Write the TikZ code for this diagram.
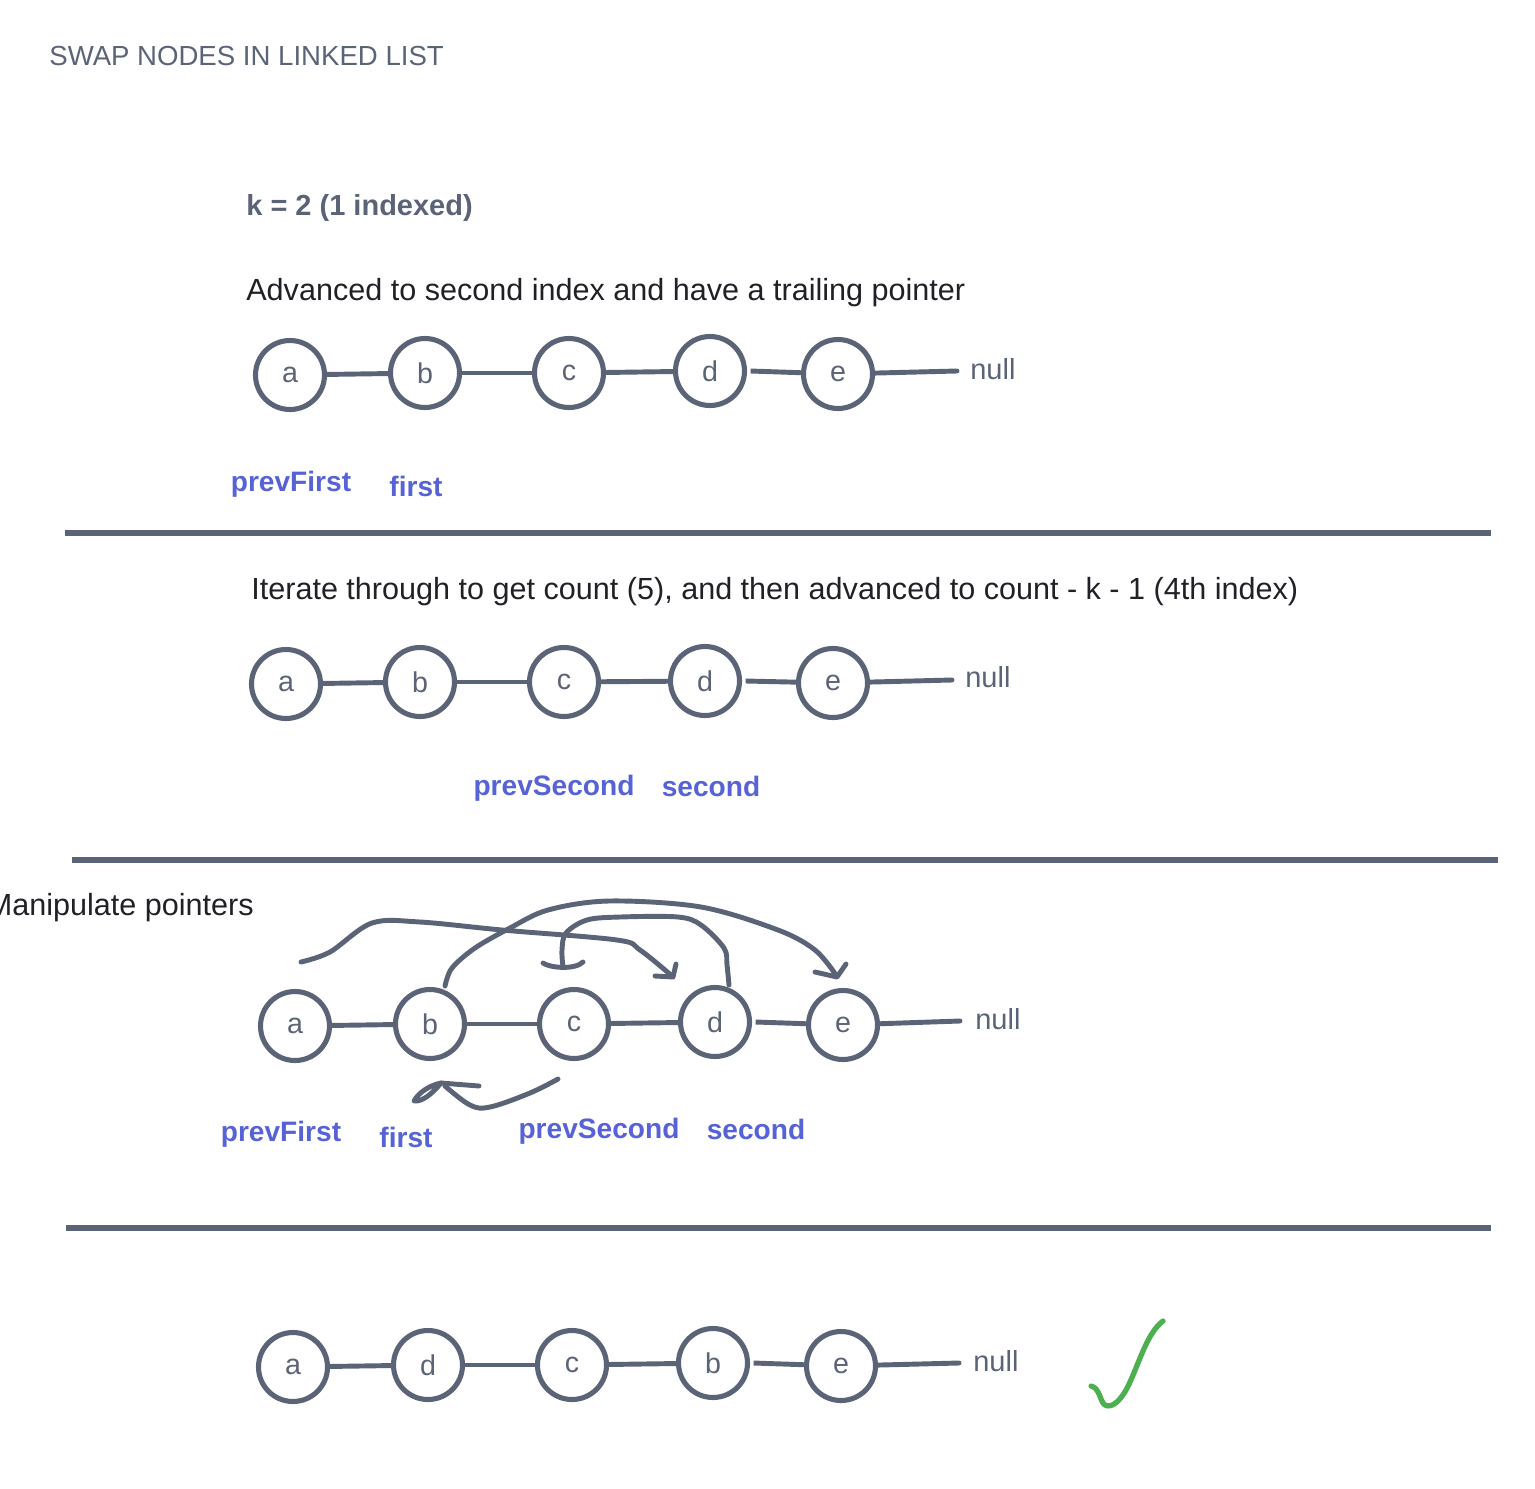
\documentclass[tikz,border=0pt]{standalone}
\usepackage{fontspec}
\setmainfont{Liberation Sans}
\definecolor{ink}{HTML}{5B6377}
\definecolor{txt}{HTML}{1F2126}
\definecolor{lbl}{HTML}{5662D6}
\definecolor{grn}{HTML}{4CAF50}
\tikzset{
  lnode/.style={circle, draw=ink, line width=2.9pt, minimum size=1.38cm, inner sep=0pt,
    text=ink, font=\fontsize{16.3}{19}\selectfont},
  link/.style={draw=ink, line width=2.8pt},
  nulltxt/.style={text=ink, font=\fontsize{16.5}{19}\selectfont, inner sep=0pt},
  ptr/.style={text=lbl, font=\bfseries\fontsize{16.0}{20}\selectfont, inner sep=0pt},
  body/.style={text=txt, font=\fontsize{17.4}{21}\selectfont, anchor=west, inner sep=0pt},
  divider/.style={draw=ink, line width=2.9pt},
  hand/.style={draw=ink, line width=2.8pt, line cap=round, line join=round},
}
\begin{document}
\begin{tikzpicture}[x=0.02cm, y=-0.02cm]
\useasboundingbox (0,0) rectangle (1535,1488);

% title and headings
\node[anchor=west, text=ink, font=\fontsize{15.7}{19}\selectfont, inner sep=0pt] (title) at (49,56) {SWAP NODES IN LINKED LIST};
\node[body, text=ink, font=\bfseries\fontsize{16.5}{20}\selectfont] (kval) at (246,208) {k = 2 (1 indexed)};
\node[body] (t1) at (246,293) {Advanced to second index and have a trailing pointer};

% ---- section 1
\node[lnode] (a1) at (290,375) {a};
\node[lnode] (b1) at (425,373) {b};
\node[lnode] (c1) at (569,373) {c};
\node[lnode] (d1) at (710,371) {d};
\node[lnode] (e1) at (838,374) {e};
\coordinate (z1) at (957,371);
\node[nulltxt, anchor=west] (n1) at (970,369) {null};
\draw[link] (a1) -- (b1);
\draw[link] (b1) -- (c1);
\draw[link] (c1) -- (d1);
\draw[link] ([xshift=2pt]d1.east) -- (e1);
\draw[link, line cap=round] (e1) -- (z1);
\node[ptr] (pf1) at (291,484) {prevFirst};
\node[ptr] (f1) at (416,486) {first};

\coordinate (r1a) at (65,533); \coordinate (r1b) at (1491,533);
\draw[divider] (r1a) -- (r1b);

% ---- section 2
\node[body] (t2) at (251,592) {Iterate through to get count (5), and then advanced to count - k - 1 (4th index)};
\node[lnode] (a2) at (286,684) {a};
\node[lnode] (b2) at (420,682) {b};
\node[lnode] (c2) at (564,682) {c};
\node[lnode] (d2) at (705,681) {d};
\node[lnode] (e2) at (833,683) {e};
\coordinate (z2) at (952,680);
\node[nulltxt, anchor=west] (n2) at (965,677) {null};
\draw[link] (a2) -- (b2);
\draw[link] (b2) -- (c2);
\draw[link] (c2) -- (d2);
\draw[link] ([xshift=2pt]d2.east) -- (e2);
\draw[link, line cap=round] (e2) -- (z2);
\node[ptr] (ps2) at (554,788) {prevSecond};
\node[ptr] (s2) at (711,786) {second};

\coordinate (r2a) at (72,860); \coordinate (r2b) at (1498,860);
\draw[divider] (r2a) -- (r2b);

% ---- section 3
\node[body, anchor=east] (t3) at (254,908) {Manipulate pointers};
\node[lnode] (a3) at (295,1026) {a};
\node[lnode] (b3) at (430,1024) {b};
\node[lnode] (c3) at (574,1024) {c};
\node[lnode] (d3) at (715,1022) {d};
\node[lnode] (e3) at (843,1025) {e};
\coordinate (z3) at (960,1021);
\node[nulltxt, anchor=west] (n3) at (975,1019) {null};
\draw[link] (a3) -- (b3);
\draw[link] (b3) -- (c3);
\draw[link] (c3) -- (d3);
\draw[link] ([xshift=2pt]d3.east) -- (e3);
\draw[link, line cap=round] (e3) -- (z3);
\node[ptr] (pf3) at (281,1134) {prevFirst};
\node[ptr] (f3) at (406,1137) {first};
\node[ptr] (ps3) at (599,1131) {prevSecond};
\node[ptr] (s3) at (756,1129) {second};

% hand-drawn pointer arrows
% prevFirst -> d
\draw[hand] plot[smooth, tension=0.55] coordinates {(301,962) (330,952) (372,923) (420,922) (502,930) (617,940) (640,950) (672,976)};
\draw[hand] (655,976) -- (673,977) -- (676,964);
% b -> e
\draw[hand] plot[smooth, tension=0.55] coordinates {(445,986) (452,968) (475,948) (510,928) (548,910) (609,901) (701,907) (778,930) (815,950) (836,975)};
\draw[hand] (815,972) -- (837,977) -- (846,964);
% d -> c
\draw[hand] plot[smooth, tension=0.55] coordinates {(729,985) (727,965) (724,948) (701,925) (678,917) (620,917) (587,920) (566,933) (562,950) (563,967)};
\draw[hand] (543,963) .. controls (550,968) and (575,970) .. (583,962);
% prevSecond -> b (lower)
\draw[hand] plot[smooth, tension=0.6] coordinates {(558,1079) (530,1093) (490,1107) (470,1105) (445,1086)};
\draw[hand] (441,1083) -- (479,1086);
\draw[hand] (441,1083) .. controls (430,1085) and (418,1093) .. (414,1101) .. controls (422,1102) and (432,1094) .. (441,1083);

\coordinate (r3a) at (66,1228); \coordinate (r3b) at (1491,1228);
\draw[divider] (r3a) -- (r3b);

% ---- section 4
\node[lnode] (a4) at (293,1367) {a};
\node[lnode] (d4) at (428,1365) {d};
\node[lnode] (c4) at (572,1365) {c};
\node[lnode] (b4) at (713,1363) {b};
\node[lnode] (e4) at (841,1366) {e};
\coordinate (z4) at (959,1363);
\node[nulltxt, anchor=west] (n4) at (973,1361) {null};
\draw[link] (a4) -- (d4);
\draw[link] (d4) -- (c4);
\draw[link] (c4) -- (b4);
\draw[link] ([xshift=2pt]b4.east) -- (e4);
\draw[link, line cap=round] (e4) -- (z4);

% check mark
\draw[grn, line width=3pt, line cap=round, line join=round]
  (1091,1386) .. controls (1100,1388) and (1100,1402) .. (1105,1405)
  .. controls (1112,1409) and (1122,1400) .. (1130,1382)
  .. controls (1140,1360) and (1148,1332) .. (1163,1321);
\end{tikzpicture}
\end{document}
